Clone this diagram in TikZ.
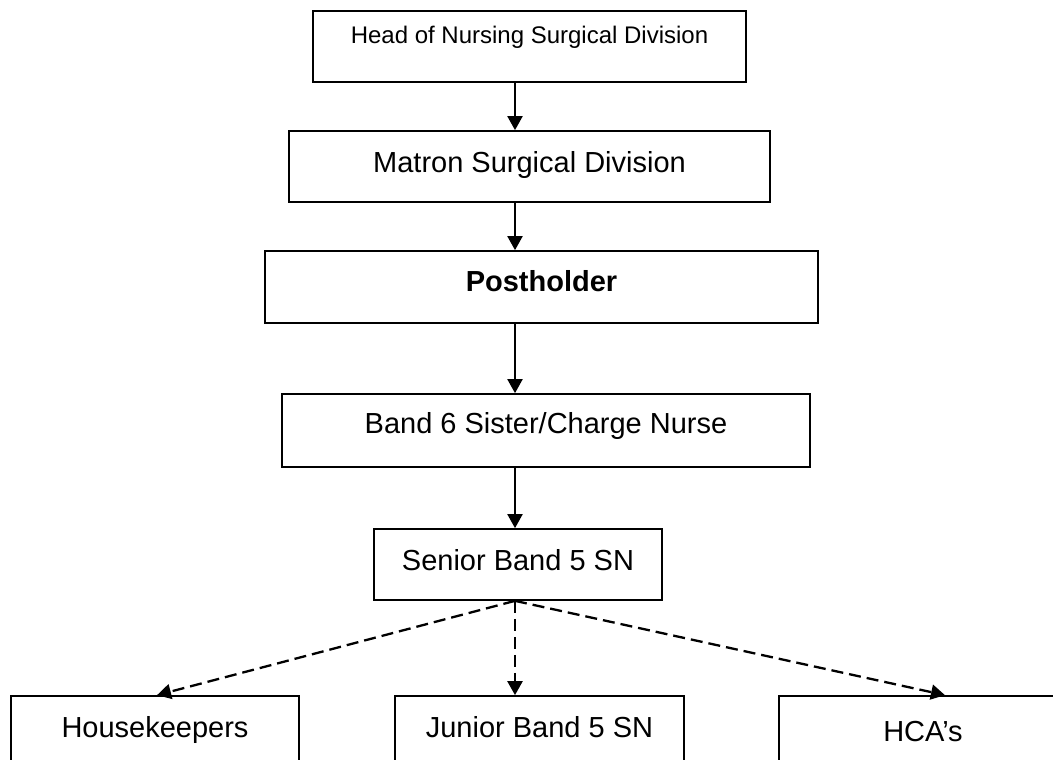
\documentclass[tikz,border=0pt]{standalone}
\usepackage{fontspec}
\setmainfont{Liberation Sans}
\usetikzlibrary{arrows.meta,calc}
\begin{document}
\begin{tikzpicture}[x=1pt,y=-1pt,
  box/.style={draw=black, line width=1.7pt, rectangle, inner sep=0pt,
    minimum height=71pt, text height=20.8pt, font=\fontsize{29}{34}\selectfont},
  arr/.style={line width=2pt, -{Triangle[length=14pt,width=15pt]}},
  darr/.style={arr, line width=2.3pt, dash pattern=on 12pt off 6pt}]
\useasboundingbox (0,0) rectangle (1053,760);
\clip (0,0) rectangle (1053,760);
\node[box, minimum width=433pt, text height=17.2pt, text depth=22.2pt,
  font=\fontsize{24}{28}\selectfont] (head) at (529.5,46.5) {Head of Nursing Surgical Division};
\node[box, minimum width=481pt, text depth=9.8pt] (matron) at (529.5,166.5) {Matron Surgical Division};
\node[box, minimum width=553pt, minimum height=72pt, text depth=12.8pt,
  font=\fontsize{29}{34}\selectfont\bfseries] (post) at (541.5,287) {Postholder};
\node[box, minimum width=528pt, minimum height=73pt, text depth=15.8pt] (band6) at (546,430.5) {Band 6 Sister/Charge Nurse};
\node[box, minimum width=288pt, text depth=9.8pt] (senior) at (518,564.5) {Senior Band 5 SN};
\node[box, minimum width=288pt, text depth=9.8pt] (house) at (155,731.5) {Housekeepers};
\node[box, minimum width=289pt, text depth=9.8pt] (junior) at (539.5,731.5) {Junior Band 5 SN};
\node[box, minimum width=288pt, text depth=0pt] (hca) at (923,731.5) {HCA’s};
\coordinate (spine) at (515,0);
\coordinate (hktip) at ($(house.north)+(2,0)$);
\coordinate (hcatip) at ($(hca.north)+(22,0)$);
\draw[arr] (head.south -| spine) -- (matron.north -| spine);
\draw[arr] (matron.south -| spine) -- (post.north -| spine);
\draw[arr] (post.south -| spine) -- (band6.north -| spine);
\draw[arr] (band6.south -| spine) -- (senior.north -| spine);
\draw[darr] (senior.south -| spine) -- (hktip);
\draw[darr] (senior.south -| spine) -- (junior.north -| spine);
\draw[darr] (senior.south -| spine) -- (hcatip);
\end{tikzpicture}
\end{document}
